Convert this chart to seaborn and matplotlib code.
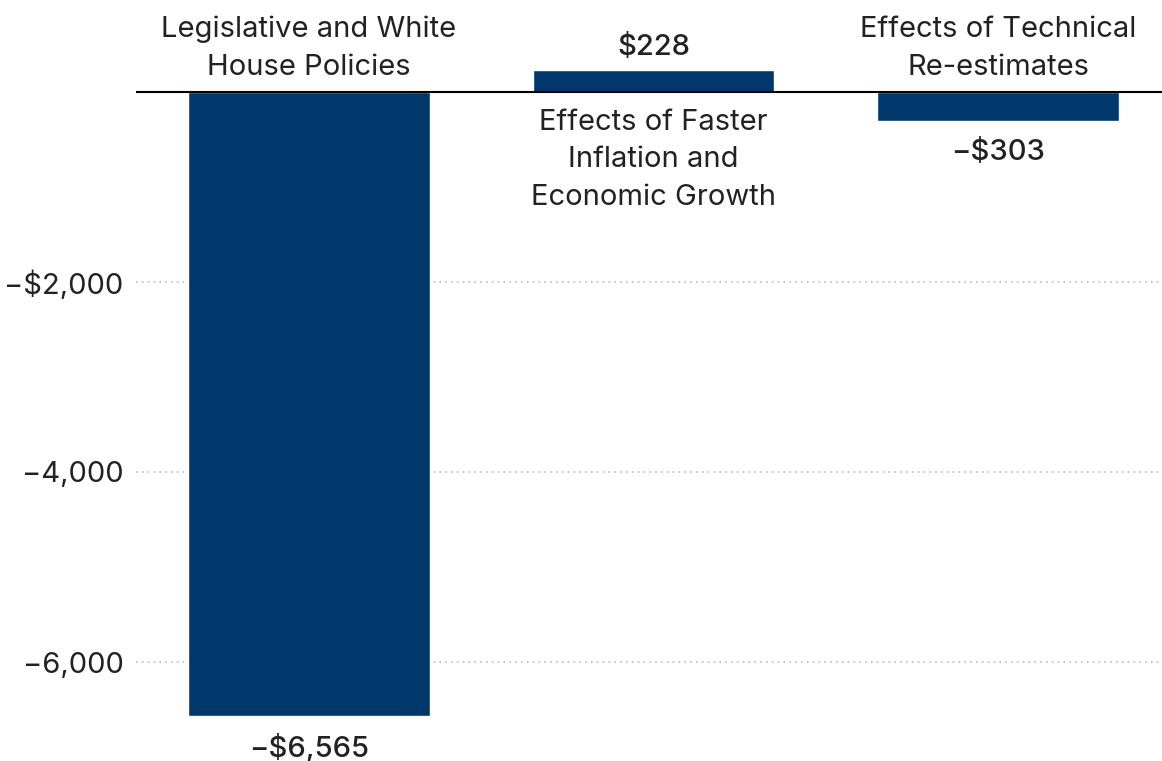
"""
Waterfall-style bar chart of deficit changes by source.
"""
import matplotlib
matplotlib.use('Agg')
import matplotlib.pyplot as plt
import seaborn as sns
import pandas as pd

categories = ['Legislative and White\nHouse Policies',
              'Effects of Faster\nInflation and\nEconomic Growth',
              'Effects of Technical\nRe-estimates']
values = [-6565, 228, -303]
value_labels = ['\u2212$6,565', '$228', '\u2212$303']
yticks = [-6000, -4000, -2000]
ytick_labels = ['\u22126,000', '\u22124,000', '\u2212$2,000']

BAR_COLOR = '#00386C'
TEXT_COLOR = '#222222'
FS = 21

sns.set_style('white')
plt.rcParams['font.family'] = ['Inter', 'DejaVu Sans']

df = pd.DataFrame({'category': categories, 'value': values})

fig = plt.figure(figsize=(11.62, 7.61), dpi=100)
ax = fig.add_axes([136 / 1162, 0, 1 - 136 / 1162, 1])

sns.barplot(data=df, x='category', y='value', color=BAR_COLOR, width=0.7,
            saturation=1, ax=ax, zorder=3)

ax.set_xlim(-0.502, 2.476)
ax.set_ylim(-7042, 968)

# gridlines and zero line
for y in yticks:
    ax.axhline(y, color='#bbbbbb', lw=1.2, ls=(0, (1, 2.5)), zorder=1)
ax.axhline(0, color='black', lw=1.5, zorder=4)

ax.set_yticks(yticks)
ax.set_yticklabels(ytick_labels, fontsize=FS, color=TEXT_COLOR)
ax.tick_params(axis='y', length=0, pad=9)
ax.set_xticks([])
ax.set_xlabel('')
ax.set_ylabel('')
for s in ax.spines.values():
    s.set_visible(False)

for i, (v, lab, cat) in enumerate(zip(values, value_labels, categories)):
    if v >= 0:
        ax.annotate(lab, (i, v), xytext=(0, 7), textcoords='offset points',
                    ha='center', va='bottom', fontsize=FS, fontweight=500,
                    color=TEXT_COLOR)
        ax.annotate(cat, (i, 0), xytext=(0, -12), textcoords='offset points',
                    ha='center', va='top', fontsize=FS, color=TEXT_COLOR,
                    linespacing=1.5)
    else:
        ax.annotate(lab, (i, v), xytext=(0, -13), textcoords='offset points',
                    ha='center', va='top', fontsize=FS, fontweight=500,
                    color=TEXT_COLOR)
        ax.annotate(cat, (i, 0), xytext=(0, 8), textcoords='offset points',
                    ha='center', va='bottom', fontsize=FS, color=TEXT_COLOR,
                    linespacing=1.5)

fig.savefig('out.png', dpi=100)
plt.close(fig)
